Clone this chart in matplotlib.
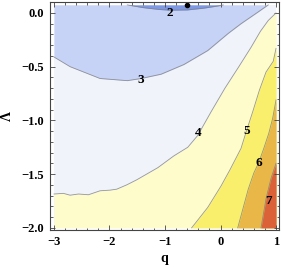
import matplotlib
matplotlib.use('Agg')
import matplotlib.pyplot as plt
from matplotlib.ticker import MultipleLocator

# contour lines: (q, Lambda)
top = 0.075
bottom = -2.0

q_c2 = [-1.68, -1.4, -1.1, -0.9, -0.6, -0.3, -0.05, 0.05]
l_c2 = [0.075, 0.05, 0.032, 0.026, 0.028, 0.045, 0.065, 0.075]

q_c3 = [-3.0, -2.71, -2.17, -1.68, -1.43, -1.07, -0.66, -0.23, 0.14, 0.37, 0.68, 0.86]
l_c3 = [-0.41, -0.50, -0.61, -0.63, -0.61, -0.57, -0.48, -0.35, -0.19, -0.10, 0.01, 0.075]

q_c4 = [-3.0, -2.83, -2.71, -2.56, -2.38, -2.17, -1.99, -1.87, -1.69, -1.51, -1.13, -0.84,
        -0.59, -0.41, -0.17, 0.08, 0.33, 0.55, 0.72, 0.86, 1.0]
l_c4 = [-1.685, -1.679, -1.696, -1.685, -1.692, -1.655, -1.649, -1.64, -1.60, -1.553, -1.44, -1.33,
        -1.25, -1.14, -0.92, -0.70, -0.50, -0.32, -0.17, -0.07, 0.0]

q_c5 = [-0.52, -0.23, 0.01, 0.17, 0.37, 0.46, 0.58, 0.70, 0.82, 0.95, 1.0]
l_c5 = [-2.0, -1.81, -1.61, -1.46, -1.26, -1.11, -0.92, -0.72, -0.55, -0.45, -0.33]

q_c6 = [0.31, 0.50, 0.60, 0.69, 0.78, 0.87, 0.94, 1.0]
l_c6 = [-2.0, -1.64, -1.49, -1.39, -1.26, -1.12, -0.98, -0.81]

q_c7 = [0.73, 0.82, 0.91, 1.0]
l_c7 = [-2.0, -1.73, -1.54, -1.40]

labels = ['2', '3', '4', '5', '6', '7']
label_q = [-0.91, -1.43, -0.41, 0.47, 0.69, 0.86]
label_l = [0.0, -0.62, -1.12, -1.10, -1.40, -1.75]

dot_q, dot_l = -0.6, 0.075

colors = ['#7d99e6', '#c6d2f6', '#f0f3fa', '#fefccb', '#f9ef6c', '#e9b748', '#db6139']

fig = plt.figure(figsize=(2.82, 2.69), dpi=100)
ax = fig.add_axes([50/282, 1 - 230/269, 229/282, 228/269])

serif = 'Liberation Serif'

# background band (3-4) then the other bands painted on top
ax.fill_between([-3, 1], bottom, top, color=colors[2], lw=0)
ax.fill_between(q_c3, l_c3, top, color=colors[1], lw=0)
ax.fill_between(q_c2, l_c2, top, color=colors[0], lw=0)
ax.fill_between(q_c4, bottom, l_c4, color=colors[3], lw=0)
ax.fill_between(q_c5, bottom, l_c5, color=colors[4], lw=0)
ax.fill_between(q_c6, bottom, l_c6, color=colors[5], lw=0)
ax.fill_between(q_c7, bottom, l_c7, color=colors[6], lw=0)

for qs, ls in [(q_c2, l_c2), (q_c3, l_c3), (q_c4, l_c4), (q_c5, l_c5), (q_c6, l_c6), (q_c7, l_c7)]:
    ax.plot(qs, ls, color='#7f7f7f', lw=0.6, alpha=0.8)

for t, x, y in zip(labels, label_q, label_l):
    ax.text(x, y, t, ha='center', va='center', fontsize=9.5, fontweight='bold', family=serif)

ax.plot([dot_q], [dot_l], 'o', color='black', ms=3)

ax.set_xlim(-3.072, 1.054)
ax.set_ylim(-2.02, 0.102)

ax.xaxis.set_major_locator(MultipleLocator(1))
ax.xaxis.set_minor_locator(MultipleLocator(0.2))
ax.yaxis.set_major_locator(MultipleLocator(0.5))
ax.yaxis.set_minor_locator(MultipleLocator(0.1))
ax.tick_params(which='both', direction='in', top=True, right=True, color='#444444', width=0.6)
ax.tick_params(which='major', length=3.5, pad=4.5, labelsize=9)
ax.tick_params(which='minor', length=1.8)
for s in ax.spines.values():
    s.set_color('#444444')
    s.set_linewidth(0.8)

ax.set_xticks([-3, -2, -1, 0, 1])
ax.set_xticklabels(['\u22123', '\u22122', '\u22121', '0', '1'], family=serif, fontweight='bold')
ax.set_yticks([0.0, -0.5, -1.0, -1.5, -2.0])
ax.set_yticklabels(['0.0', '\u22120.5', '\u22121.0', '\u22121.5', '\u22122.0'], family=serif, fontweight='bold')

ax.set_xlabel('q', family=serif, fontweight='bold', fontsize=10, labelpad=3)
ax.set_ylabel('\u039b', family=serif, fontweight='bold', fontsize=10, labelpad=5)

fig.savefig('out.png', dpi=100)
